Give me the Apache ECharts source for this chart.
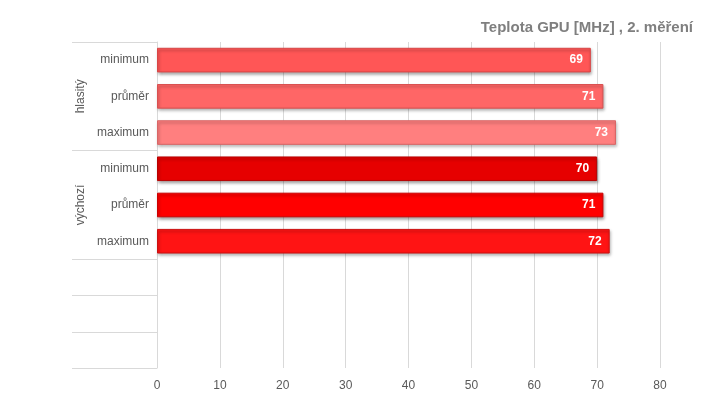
<!DOCTYPE html>
<html><head><meta charset="utf-8">
<script src="https://cdn.jsdelivr.net/npm/echarts@6/dist/echarts.min.js"></script>
<style>html,body{margin:0;padding:0;background:#fff}#c{width:719px;height:406px}</style>
</head><body><div id="c"></div>
<script>
const titleText = "Teplota GPU [MHz] , 2. měření";
const categories = ["minimum", "průměr", "maximum", "minimum", "průměr", "maximum", "", "", ""];
const values = [69, 71, 73, 70, 71, 72, null, null, null];
const barColors = ["#FF5656", "#FF6666", "#FF7F7F", "#E60000", "#FF0000", "#FF1414", "#ccc", "#ccc", "#ccc"];
const barBorders = ["#D94545", "#D95050", "#D96666", "#B80000", "#CC0000", "#CC1010", "#ccc", "#ccc", "#ccc"];
const groupNames = ["hlasitý", "výchozí"];
const groupCenters = [1.5, 4.5];
const groupBounds = [0, 3, 6, 7, 8, 9];
const xTicks = {min: 0, max: 80, interval: 10};

const chart = echarts.init(document.getElementById('c'), null, {renderer: 'canvas'});
chart.setOption({
  animation: false,
  backgroundColor: '#fff',
  title: {
    text: titleText, right: 21, top: 15,
    textStyle: {fontFamily: 'Arial, Liberation Sans', fontSize: 15, fontWeight: 'bold', color: '#7f7f7f'}
  },
  grid: {left: 157, right: 59, top: 42, bottom: 38, containLabel: false},
  xAxis: {
    type: 'value', min: xTicks.min, max: xTicks.max, interval: xTicks.interval,
    axisLine: {show: false}, axisTick: {show: false},
    splitLine: {show: true, lineStyle: {color: '#d9d9d9', width: 1}},
    axisLabel: {color: '#595959', fontSize: 12, margin: 12, fontFamily: 'Arial, Liberation Sans'}
  },
  yAxis: [{
    type: 'category', data: categories, inverse: true,
    axisLine: {show: true, lineStyle: {color: '#d9d9d9'}},
    axisTick: {show: false},
    axisLabel: {color: '#595959', fontSize: 12, margin: 8, fontFamily: 'Arial, Liberation Sans'}
  }, {
    type: 'value', min: 0, max: 9, inverse: true, position: 'left',
    axisLine: {show: false},
    splitLine: {show: false},
    axisTick: {show: true, length: 85, inside: false, customValues: groupBounds, lineStyle: {color: '#d9d9d9'}},
    axisLabel: {show: true, customValues: groupCenters, rotate: 90, margin: 70, color: '#595959', fontSize: 12,
      fontFamily: 'Arial, Liberation Sans',
      formatter: function (v) { const i = groupCenters.indexOf(v); return i >= 0 ? groupNames[i] : ''; }}
  }],
  series: [{
    type: 'bar', yAxisIndex: 0,
    barCategoryGap: '32%',
    data: values.map((v, i) => ({
      value: v,
      itemStyle: {color: barColors[i], borderColor: barBorders[i], borderWidth: 1,
        shadowColor: 'rgba(0,0,0,0.35)', shadowBlur: 3, shadowOffsetX: 1, shadowOffsetY: 2}
    })),
    label: {show: true, position: 'insideRight', distance: 8, color: '#fff', fontWeight: 'bold', fontSize: 12,
      fontFamily: 'Arial, Liberation Sans'}
  }]
});
</script>
</body></html>
